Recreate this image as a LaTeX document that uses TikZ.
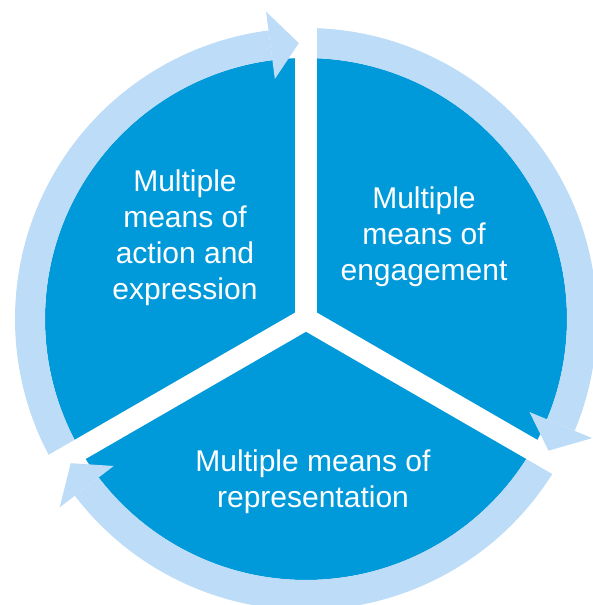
\documentclass[tikz,border=0pt]{standalone}
\usepackage{fontspec}
\setmainfont{Liberation Sans}
\definecolor{segblue}{RGB}{0,153,218}
\definecolor{ringblue}{RGB}{189,220,247}
\tikzset{
  sectortext/.style={text=white, align=center, font=\fontsize{30}{36}\selectfont},
  gapline/.style={white, line width=22, line cap=round},
}
\begin{document}
\begin{tikzpicture}[x=1pt,y=1pt]
\useasboundingbox (0,0) rectangle (592,605);
\begin{scope}[shift={(306,286)}]
\coordinate (hub) at (0,0);
% inner disc
\fill[segblue] (hub) circle (261);
% ring bands
\foreach \h in {90,-30,210} {
  \fill[ringblue] (\h+7.4:261) arc[start angle=\h+7.4, end angle=\h+120, radius=261]
    -- (\h+120:291) arc[start angle=\h+120, end angle=\h+7.4, radius=291] -- cycle;
}
% white gaps
\foreach \a in {90,210,330} {
  \coordinate (gap\a) at (\a:330);
  \draw[gapline] (hub) -- (gap\a);
}
% arrow heads
\foreach \h in {90,-30,210}
  \fill[ringblue] (\h+7.4:242) -- (\h+7.4:310) -- (\h+1.5:276) -- cycle;
\end{scope}

\node[sectortext] (action) at (185,367) {Multiple\\means of\\action and\\expression};
\node[sectortext] (engage) at (424,368) {Multiple\\means of\\engagement};
\node[sectortext] (repres) at (313,123) {Multiple means of\\representation};
\end{tikzpicture}
\end{document}
